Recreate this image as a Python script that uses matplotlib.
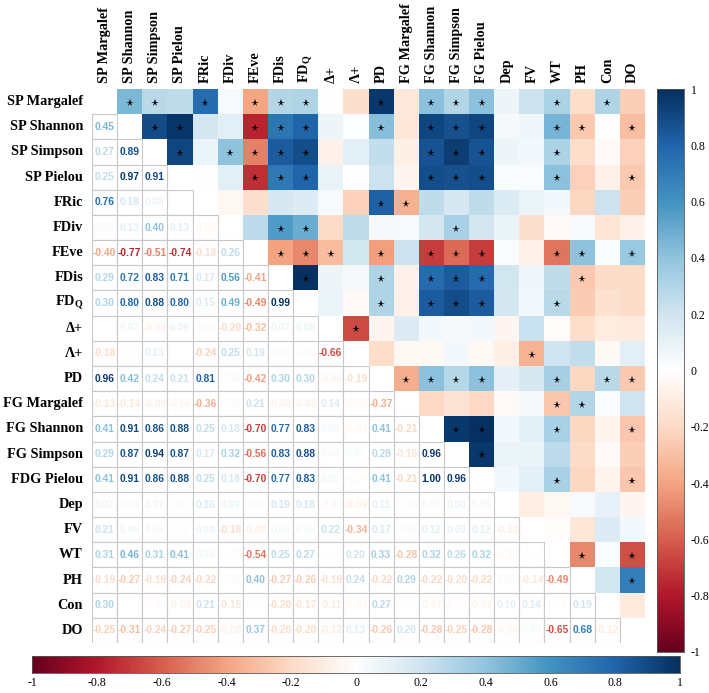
import numpy as np
import matplotlib
matplotlib.use("Agg")
import matplotlib.pyplot as plt
from matplotlib.colors import LinearSegmentedColormap, Normalize
from matplotlib.patches import Rectangle

plt.rcParams['mathtext.fontset'] = 'custom'
plt.rcParams['mathtext.rm'] = 'Liberation Serif'
plt.rcParams['mathtext.bf'] = 'Liberation Serif:bold'

row_labels = ["SP Margalef", "SP Shannon", "SP Simpson", "SP Pielou", "FRic", "FDiv",
              "FEve", "FDis", r"FD$_\mathbf{Q}$", "Δ+", "Λ+", "PD", "FG Margalef",
              "FG Shannon", "FG Simpson", "FDG Pielou", "Dep", "FV", "WT", "PH", "Con", "DO"]
col_labels = ["SP Margalef", "SP Shannon", "SP Simpson", "SP Pielou", "FRic", "FDiv",
              "FEve", "FDis", r"FD$_\mathbf{Q}$", "Δ+", "Λ+", "PD", "FG Margalef",
              "FG Shannon", "FG Simpson", "FG Pielou", "Dep", "FV", "WT", "PH", "Con", "DO"]

# lower-triangle correlations, one list per row (columns before the diagonal)
r_sp_shannon = [0.45]
r_sp_simpson = [0.27, 0.89]
r_sp_pielou = [0.25, 0.97, 0.91]
r_fric = [0.76, 0.18, 0.08, 0.00]
r_fdiv = [0.03, 0.13, 0.40, 0.13, -0.05]
r_feve = [-0.40, -0.77, -0.51, -0.74, -0.18, 0.26]
r_fdis = [0.29, 0.72, 0.83, 0.71, 0.17, 0.56, -0.41]
r_fdq = [0.30, 0.80, 0.88, 0.80, 0.15, 0.49, -0.49, 0.99]
r_delta = [0.00, 0.07, -0.08, 0.09, 0.03, -0.20, -0.32, 0.07, 0.08]
r_lambda = [-0.18, 0.01, 0.13, 0.00, -0.24, 0.25, 0.19, 0.04, -0.03, -0.66]
r_pd = [0.96, 0.42, 0.24, 0.21, 0.81, 0.04, -0.42, 0.30, 0.30, -0.06, -0.19]
r_fg_margalef = [-0.13, -0.14, -0.09, -0.06, -0.36, 0.03, 0.21, -0.08, -0.08, 0.14, -0.05, -0.37]
r_fg_shannon = [0.41, 0.91, 0.86, 0.88, 0.25, 0.18, -0.70, 0.77, 0.83, 0.05, -0.04, 0.41, -0.21]
r_fg_simpson = [0.29, 0.87, 0.94, 0.87, 0.17, 0.32, -0.56, 0.83, 0.88, 0.04, 0.05, 0.28, -0.16, 0.96]
r_fdg_pielou = [0.41, 0.91, 0.86, 0.88, 0.25, 0.18, -0.70, 0.77, 0.83, 0.05, -0.04, 0.41, -0.21, 1.00, 0.96]
r_dep = [0.07, 0.04, 0.07, 0.02, 0.16, 0.09, 0.02, 0.19, 0.18, -0.06, -0.09, 0.11, -0.03, 0.05, 0.08, 0.05]
r_fv = [0.21, 0.06, 0.05, 0.02, 0.08, -0.18, -0.08, 0.06, 0.05, 0.22, -0.34, 0.17, 0.04, 0.12, 0.09, 0.12, -0.10]
r_wt = [0.31, 0.46, 0.31, 0.41, 0.05, -0.03, -0.54, 0.25, 0.27, -0.02, 0.20, 0.33, -0.28, 0.32, 0.26, 0.32, -0.05, -0.02]
r_ph = [-0.19, -0.27, -0.19, -0.24, -0.22, 0.03, 0.40, -0.27, -0.26, -0.19, 0.24, -0.22, 0.29, -0.22, -0.20, -0.22, 0.03, -0.14, -0.49]
r_con = [0.30, 0.00, -0.03, -0.08, 0.21, -0.15, 0.02, -0.20, -0.17, -0.11, -0.04, 0.27, 0.02, -0.07, -0.03, -0.07, 0.10, 0.14, 0.02, 0.19]
r_do = [-0.25, -0.31, -0.24, -0.27, -0.25, -0.08, 0.37, -0.20, -0.20, -0.12, 0.13, -0.264, 0.20, -0.28, -0.25, -0.28, -0.06, 0.05, -0.65, 0.68, -0.12]

sig_threshold = 0.262  # |r| above this is marked with a star
cbar_ticks = [1, 0.8, 0.6, 0.4, 0.2, 0, -0.2, -0.4, -0.6, -0.8, -1]

lower_rows = [r_sp_shannon, r_sp_simpson, r_sp_pielou, r_fric, r_fdiv, r_feve, r_fdis, r_fdq,
              r_delta, r_lambda, r_pd, r_fg_margalef, r_fg_shannon, r_fg_simpson, r_fdg_pielou,
              r_dep, r_fv, r_wt, r_ph, r_con, r_do]
n = len(row_labels)
corr = np.eye(n)
for i, row in enumerate(lower_rows, start=1):
    for j, v in enumerate(row):
        corr[i, j] = v
        corr[j, i] = v

cols = ["#67001F", "#B2182B", "#D6604D", "#F4A582", "#FDDBC7", "#FFFFFF",
        "#D1E5F0", "#92C5DE", "#4393C3", "#2166AC", "#053061"]
cmap = LinearSegmentedColormap.from_list("rdbu_corr", cols, N=200)
norm = Normalize(-1, 1)

W, H = 709, 693
fig = plt.figure(figsize=(W / 100, H / 100), dpi=100)
gx0, gx1, gy0, gy1 = 92, 645, 89, 643
ax = fig.add_axes([gx0 / W, 1 - gy1 / H, (gx1 - gx0) / W, (gy1 - gy0) / H])
ax.set_xlim(-0.5, n - 0.5)
ax.set_ylim(n - 0.5, -0.5)
ax.axis('off')

for i in range(n):
    for j in range(n):
        v = corr[i, j]
        if j > i:
            ax.add_patch(Rectangle((j - 0.5, i - 0.5), 1, 1, facecolor=cmap(norm(v)),
                                   edgecolor='none', zorder=1))
            if abs(v) > sig_threshold:
                ax.plot(j, i + 0.05, marker='*', color='black', ms=5.5, mew=0, zorder=3)
        elif j < i:
            ax.add_patch(Rectangle((j - 0.5, i - 0.5), 1, 1, facecolor='white',
                                   edgecolor='#C8C8C8', lw=0.8, zorder=1))
            if v != 0:
                ax.text(j, i, f"{v:.2f}", ha='center', va='center', fontsize=7.4,
                        fontweight='bold', family='Liberation Sans',
                        color=cmap(norm(v)), zorder=2)

lab_kw = dict(family='Liberation Serif', fontweight='bold', fontsize=10.3)
for i, lab in enumerate(row_labels):
    ax.text(-0.86, i, lab, ha='right', va='center', **lab_kw)
for j, lab in enumerate(col_labels):
    ax.text(j, -0.74, lab, ha='center', va='bottom', rotation=90, **lab_kw)

grad = np.linspace(1, -1, 200).reshape(-1, 1)
# right colour bar
cax = fig.add_axes([657 / W, 1 - 652 / H, 27 / W, (652 - 89) / H])
cax.imshow(grad, cmap=cmap, norm=norm, aspect='auto', extent=[0, 1, -1, 1])
cax.set_xticks([])
cax.yaxis.tick_right()
cax.set_yticks(cbar_ticks)
cax.set_yticklabels([f"{t:g}" for t in cbar_ticks], family='Liberation Serif', fontsize=8.5)
cax.tick_params(axis='y', length=0, pad=5)
for s in cax.spines.values():
    s.set_linewidth(0.6)
    s.set_color('#555555')

# bottom colour bar
bax = fig.add_axes([32 / W, 1 - 673 / H, 648 / W, 17 / H])
bax.imshow(grad.T[:, ::-1], cmap=cmap, norm=norm, aspect='auto', extent=[-1, 1, 0, 1])
bax.set_yticks([])
bax.set_xticks(cbar_ticks)
bax.set_xticklabels([f"{t:g}" for t in cbar_ticks], family='Liberation Serif', fontsize=8.5)
bax.tick_params(axis='x', length=0, pad=3)
for s in bax.spines.values():
    s.set_linewidth(0.6)
    s.set_color('#555555')

fig.savefig("out.png", dpi=100)
